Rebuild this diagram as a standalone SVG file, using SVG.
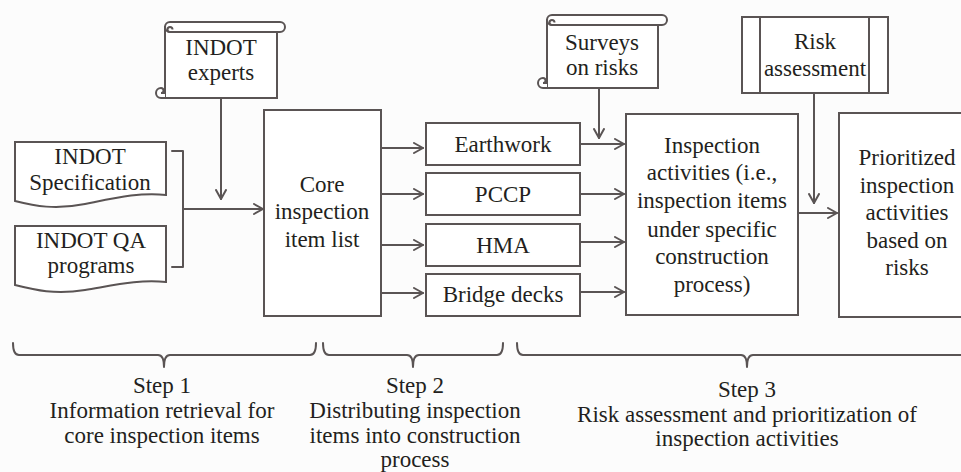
<svg xmlns="http://www.w3.org/2000/svg" width="961" height="472" viewBox="0 0 961 472">
<defs>
<style>
.s{fill:none;stroke:#5a5454;stroke-width:2;stroke-linejoin:round;stroke-linecap:round}
.b{fill:#ffffff;stroke:#5a5454;stroke-width:2}
.t{font-family:'Liberation Serif','Times New Roman',serif;font-size:23px;fill:#231f20;text-anchor:middle}
.c{fill:none;stroke:#5a5454;stroke-width:2}
</style>
<marker id="ah" markerUnits="userSpaceOnUse" markerWidth="12" markerHeight="12" refX="10" refY="6" orient="auto">
<path d="M1,1 L10,6 L1,11" fill="none" stroke="#5a5454" stroke-width="2" stroke-linecap="round" stroke-linejoin="round"/>
</marker>
</defs>
<rect width="961" height="472" fill="#fcfcfc"/>

<g id="spec">
<path class="b" d="M15,142 H166 V195 C140,192 115,198 85,204 C55,210 35,206 15,201 Z"/>
<text class="t" x="90" y="164">INDOT</text>
<text class="t" x="90" y="190">Specification</text>
</g>

<g id="qa">
<path class="b" d="M15,226 H166 V282 C140,279 115,285 85,290 C55,295 35,290 15,285 Z"/>
<text class="t" x="91" y="248">INDOT QA</text>
<text class="t" x="91" y="273">programs</text>
</g>

<g id="experts">
<path class="b" d="M165,27 V98 H277 V32 Z"/>
<path class="b" d="M170,22 H280 A5,5 0 0 1 280,32 H170 A5,5 0 0 1 170,22 Z"/>
<path class="c" d="M170,32 A2.5,2.5 0 0 1 170,27 A2.5,2.5 0 0 1 172.5,29.5"/>
<path class="b" d="M165,98 H161 A5,5 0 0 1 161,88 A2.5,2.5 0 0 1 161,93 H165"/>
<text class="t" x="221" y="55">INDOT</text>
<text class="t" x="221" y="80">experts</text>
</g>

<g id="surveys">
<path class="b" d="M547,20 V88 H658 V24 Z"/>
<path class="b" d="M552,15 H662 A5,5 0 0 1 662,25 H552 A5,5 0 0 1 552,15 Z"/>
<path class="c" d="M552,25 A2.5,2.5 0 0 1 552,20 A2.5,2.5 0 0 1 554.5,22.5"/>
<path class="b" d="M547,88 H543 A5,5 0 0 1 543,78 A2.5,2.5 0 0 1 543,83 H547"/>
<text class="t" x="602" y="50">Surveys</text>
<text class="t" x="602" y="75">on risks</text>
</g>

<g id="risk">
<rect class="b" x="742" y="17" width="146" height="76"/>
<path class="s" d="M760,17 V93 M869,17 V93"/>
<text class="t" x="815" y="49">Risk</text>
<text class="t" x="815" y="76">assessment</text>
</g>

<g id="core">
<rect class="b" x="264" y="110" width="117" height="206"/>
<text class="t" x="322" y="192">Core</text>
<text class="t" x="322" y="219">inspection</text>
<text class="t" x="322" y="247">item list</text>
</g>

<g id="earthwork">
<rect class="b" x="426" y="123" width="154" height="42"/>
<text class="t" x="503" y="152">Earthwork</text>
</g>
<g id="pccp">
<rect class="b" x="426" y="173" width="154" height="42"/>
<text class="t" x="503" y="202">PCCP</text>
</g>
<g id="hma">
<rect class="b" x="426" y="224" width="154" height="42"/>
<text class="t" x="503" y="253">HMA</text>
</g>
<g id="bridge">
<rect class="b" x="426" y="274" width="154" height="42"/>
<text class="t" x="503" y="302">Bridge decks</text>
</g>

<g id="activities">
<rect class="b" x="626" y="114" width="172" height="201"/>
<text class="t" x="712" y="153">Inspection</text>
<text class="t" x="712" y="180">activities (i.e.,</text>
<text class="t" x="712" y="208">inspection items</text>
<text class="t" x="712" y="237">under specific</text>
<text class="t" x="712" y="264">construction</text>
<text class="t" x="712" y="292">process)</text>
</g>

<g id="prioritized">
<rect class="b" x="839" y="113" width="130" height="204"/>
<text class="t" x="907" y="165">Prioritized</text>
<text class="t" x="907" y="193">inspection</text>
<text class="t" x="907" y="220">activities</text>
<text class="t" x="907" y="248">based on</text>
<text class="t" x="907" y="275">risks</text>
</g>

<g id="connectors">
<path class="s" d="M172,151 H183 V267 H172"/>
<path class="s" d="M183,209 H263" marker-end="url(#ah)"/>
<path class="s" d="M221,98 V199" marker-end="url(#ah)"/>
<path class="s" d="M381,148 H423" marker-end="url(#ah)"/>
<path class="s" d="M381,194 H423" marker-end="url(#ah)"/>
<path class="s" d="M381,245 H423" marker-end="url(#ah)"/>
<path class="s" d="M381,293 H423" marker-end="url(#ah)"/>
<path class="s" d="M580,144 H624" marker-end="url(#ah)"/>
<path class="s" d="M580,194 H624" marker-end="url(#ah)"/>
<path class="s" d="M580,242 H624" marker-end="url(#ah)"/>
<path class="s" d="M580,292 H624" marker-end="url(#ah)"/>
<path class="s" d="M599,88 V138" marker-end="url(#ah)"/>
<path class="s" d="M814,93 V203" marker-end="url(#ah)"/>
<path class="s" d="M798,213 H837" marker-end="url(#ah)"/>
</g>

<g id="step1">
<path class="s" d="M13,343 Q13,355 19,355 H158 Q164,355 164,367 Q164,355 170,355 H310 Q316,355 316,343"/>
<text class="t" x="162" y="393">Step 1</text>
<text class="t" x="162" y="418">Information retrieval for</text>
<text class="t" x="162" y="443">core inspection items</text>
</g>
<g id="step2">
<path class="s" d="M323,343 Q323,355 329,355 H407 Q413,355 413,367 Q413,355 419,355 H497 Q503,355 503,343"/>
<text class="t" x="415" y="393">Step 2</text>
<text class="t" x="415" y="418">Distributing inspection</text>
<text class="t" x="415" y="443">items into construction</text>
<text class="t" x="415" y="467">process</text>
</g>
<g id="step3">
<path class="s" d="M517,343 Q517,355 523,355 H741 Q747,355 747,367 Q747,355 753,355 H961"/>
<text class="t" x="747" y="397">Step 3</text>
<text class="t" x="747" y="422">Risk assessment and prioritization of</text>
<text class="t" x="747" y="446">inspection activities</text>
</g>
</svg>
